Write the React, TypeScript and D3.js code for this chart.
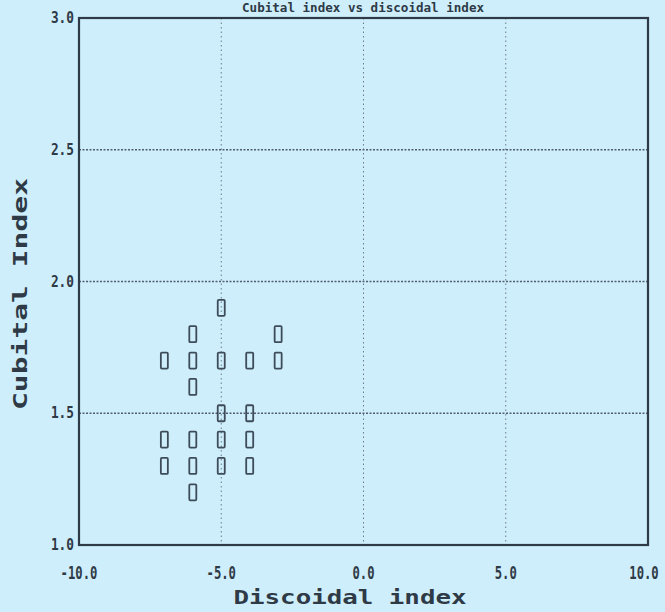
import React from "react";
import * as d3 from "d3";

const xTicks = [-10, -5, 0, 5, 10];
const yTicks = [1.0, 1.5, 2.0, 2.5, 3.0];
const discoidal = [-7, -7, -7, -6, -6, -6, -6, -6, -6, -5, -5, -5, -5, -5, -4, -4, -4, -4, -3, -3];
const cubital = [1.7, 1.4, 1.3, 1.8, 1.7, 1.6, 1.4, 1.3, 1.2, 1.9, 1.7, 1.5, 1.4, 1.3, 1.7, 1.5, 1.4, 1.3, 1.8, 1.7];

const W = 665, H = 612;
const L = 79, R = 648, T = 18, B = 545;

export default function App() {
  const x = d3.scaleLinear().domain([-10, 10]).range([L, R]);
  const y = d3.scaleLinear().domain([1, 3]).range([B, T]);
  const ink = "#2e3a46";
  const mono = "'DejaVu Sans Mono', 'Liberation Mono', monospace";
  return (
    <svg width={W} height={H} style={{ position: "absolute", left: 0, top: 0, background: "#cfeefb" }}>
      <rect x={0} y={0} width={W} height={H} fill="#cfeefb" />
      <text x={363} y={12} textAnchor="middle" fontFamily={mono} fontSize={12} fontWeight="bold" fill={ink}
        textLength={242} lengthAdjust="spacingAndGlyphs">Cubital index vs discoidal index</text>
      {xTicks.filter(t => t > -10 && t < 10).map(t => (
        <line key={"gx" + t} x1={x(t)} x2={x(t)} y1={T} y2={B} stroke="#6a7a88" strokeWidth={1} strokeDasharray="1.5,3" />
      ))}
      {yTicks.filter(t => t > 1 && t < 3).map(t => (
        <line key={"gy" + t} x1={L} x2={R} y1={y(t)} y2={y(t)} stroke="#4e5e6c" strokeWidth={1.3} strokeDasharray="2,1.5" />
      ))}
      <rect x={L} y={T} width={R - L} height={B - T} fill="none" stroke={ink} strokeWidth={2.2} />
      {xTicks.map(t => (
        <text key={"xt" + t} transform={`translate(${t === 10 ? x(t) - 4 : x(t)},579) scale(0.72,1)`} textAnchor="middle"
          fontFamily={mono} fontSize={17} fontWeight="bold" fill={ink}>{t.toFixed(1)}</text>
      ))}
      {yTicks.map(t => (
        <text key={"yt" + t} transform={`translate(74,${y(t) + 5}) scale(0.8,1)`} textAnchor="end"
          fontFamily={mono} fontSize={16} fontWeight="bold" fill={ink}>{t.toFixed(1)}</text>
      ))}
      {discoidal.map((d, i) => (
        <rect key={"p" + i} x={x(d) - 3.5} y={y(cubital[i]) - 8} width={7} height={16} rx={1}
          fill="none" stroke="#3e4c5a" strokeWidth={1.8} />
      ))}
      <text x={350} y={604} textAnchor="middle" fontFamily={mono} fontSize={20} fontWeight="bold" fill={ink}
        textLength={233} lengthAdjust="spacingAndGlyphs">Discoidal index</text>
      <text transform={`translate(27,294) rotate(-90)`} textAnchor="middle" fontFamily={mono} fontSize={20}
        fontWeight="bold" fill={ink} textLength={232} lengthAdjust="spacingAndGlyphs">Cubital Index</text>
    </svg>
  );
}
